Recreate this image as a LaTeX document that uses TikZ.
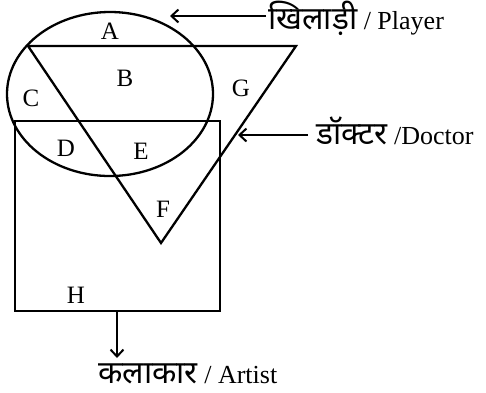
\documentclass[tikz,border=0pt]{standalone}
\usepackage{fontspec}
\setmainfont{Liberation Serif}
\newfontfamily\deva[Script=Devanagari,Scale=1.22]{Noto Sans}
\usetikzlibrary{arrows.meta}
\begin{document}
\begin{tikzpicture}[x=1pt,y=-1pt,
  shape line/.style={line width=2.3pt},
  lbl/.style={font=\fontsize{25}{25}\selectfont, inner sep=0pt},
  caption/.style={font=\fontsize{26}{26}\selectfont, inner sep=0pt, anchor=base west},
  pointer/.style={line width=2pt, -{Straight Barb[length=7pt,width=13pt,line width=2pt]}}]
\useasboundingbox (0,0) rectangle (486,392);
% shapes
\draw[shape line] (110,94) ellipse [x radius=103, y radius=82];
\draw[shape line, line join=miter] (28,46) -- (296,46) -- (161,243) -- cycle;
\draw[shape line] (15,121) rectangle (220,311);
% region labels
\node[lbl] (A) at (110,31) {A};
\node[lbl] (B) at (125,78) {B};
\node[lbl] (C) at (31,98) {C};
\node[lbl] (G) at (241,88) {G};
\node[lbl] (D) at (66,148) {D};
\node[lbl] (E) at (141,151) {E};
\node[lbl] (F) at (163,209) {F};
\node[lbl] (H) at (76,295) {H};
% captions
\node[caption] (player) at (268,29) {{\deva खिलाड़ी} / Player};
\node[caption] (doctor) at (316,144) {{\deva डॉक्टर} /Doctor};
\node[caption] (artist) at (98,383) {{\deva कलाकार} / Artist};
\coordinate (ptip) at (170,16);
\coordinate (dtip) at (238,135);
\coordinate (rbot) at (117,311);
\coordinate (atip) at (117,358);
\draw[pointer] (player.west |- ptip) ++(-2,0) -- (ptip);
\draw[pointer] (doctor.west |- dtip) ++(-8,0) -- (dtip);
\draw[pointer] (rbot) -- (atip);
\end{tikzpicture}
\end{document}
